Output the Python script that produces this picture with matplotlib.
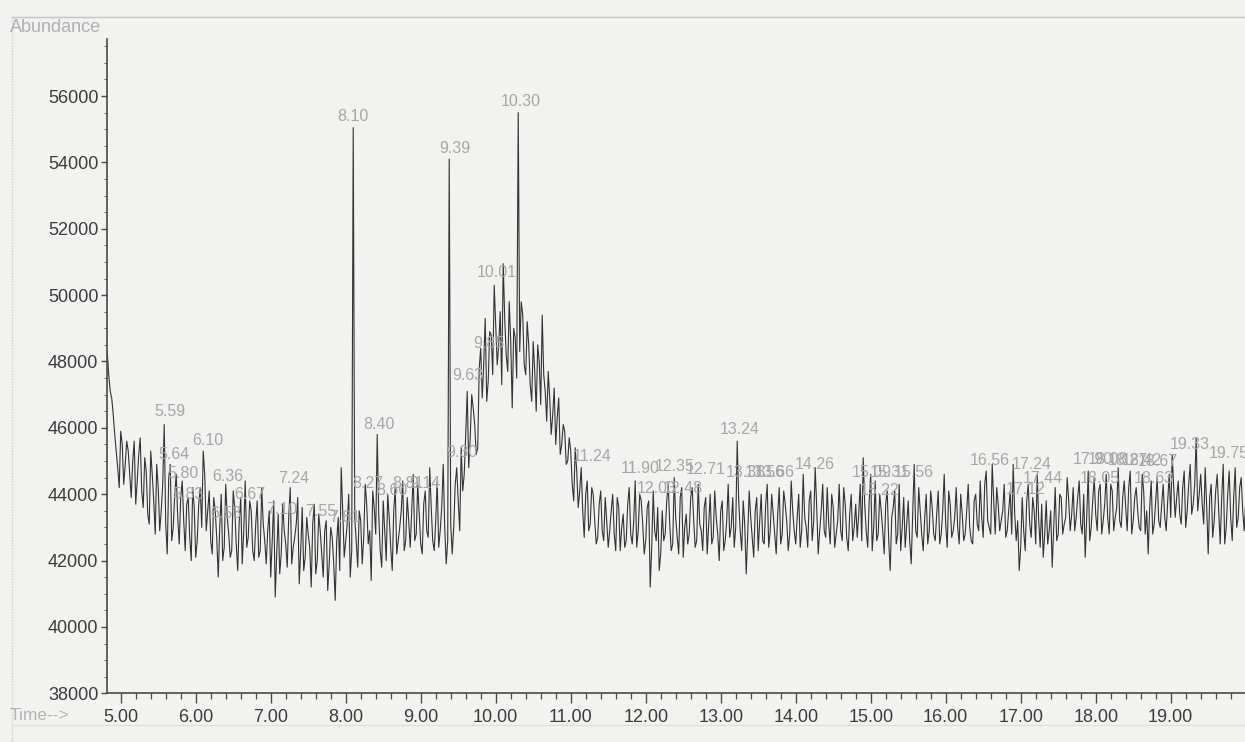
import numpy as np
import matplotlib
matplotlib.use("Agg")
import matplotlib.pyplot as plt
from matplotlib.ticker import MultipleLocator, FixedLocator, FuncFormatter
from matplotlib.lines import Line2D

# ---------------- data ----------------
scan_start = 4.82   # min, first scan
scan_step = 0.02    # min between scans

# even scans (4.82, 4.86, ...) per minute block
seg_05 = [48300, 47100, 46400, 45300, 44200, 45500, 44900, 45300, 43900, 45600,
          44400, 45700, 43600, 44700, 43100, 44600, 42800, 44200, 43500, 46100,
          42200, 44900, 43000, 44600, 42500]
seg_06 = [44400, 42300, 43900, 42000, 43600, 42600, 44200, 45300, 42900, 44100,
          42200, 43500, 41500, 44000, 42400, 43300, 42100, 44100, 42500, 43200,
          41900, 44400, 42700, 43500, 42000]
seg_07 = [43800, 42300, 43100, 41900, 43500, 42600, 40900, 43400, 42200, 42900,
          41800, 44200, 42400, 43100, 41300, 43600, 42100, 42800, 41200, 43700,
          42000, 42900, 41500, 43200, 41900]
seg_08 = [42700, 40800, 43300, 44800, 42100, 43100, 41500, 55050, 42600, 43500,
          41900, 44300, 42500, 41400, 43600, 45800, 42300, 43800, 42000, 43300,
          41700, 44200, 42600, 43500, 42300]
seg_09 = [43900, 42400, 44600, 42800, 43400, 42200, 44100, 42700, 43600, 42300,
          44400, 42900, 44900, 41900, 54100, 42200, 44300, 43800, 45400, 44600,
          47100, 45700, 46600, 45200, 47800]
seg_10 = [46900, 49300, 47400, 48800, 50300, 47900, 49500, 50950, 48200, 49800,
          46600, 48700, 55500, 49800, 47900, 49200, 47300, 48600, 46500, 48000,
          49400, 47100, 47700, 45800, 47200]
seg_11 = [46300, 45200, 46100, 44900, 45700, 44300, 45400, 43600, 44800, 42700,
          44400, 43100, 44000, 42500, 43700, 42900, 43900, 42400, 43500, 42800,
          43900, 42300, 43400, 42600, 44200]
seg_12 = [42500, 44400, 42900, 43800, 42200, 43600, 41200, 44100, 42600, 41700,
          43500, 42800, 44300, 42300, 44500, 42700, 43900, 42100, 43400, 42800,
          44200, 42400, 44300, 42900, 43600]
seg_13 = [42200, 44000, 42700, 43300, 42000, 43800, 42600, 44300, 43000, 42400,
          45600, 42900, 43800, 41600, 44100, 42700, 43500, 42300, 44000, 42500,
          44300, 42900, 43400, 42200, 44200]
seg_14 = [42800, 43700, 42300, 44400, 42900, 43300, 42400, 44600, 43000, 43800,
          42600, 44800, 42200, 43500, 42900, 44200, 42500, 43600, 42800, 44300,
          42600, 43700, 42300, 44000, 43000]
seg_15 = [42700, 44300, 45100, 42900, 43800, 42300, 44400, 42800, 43500, 42200,
          44100, 41700, 43600, 42500, 44300, 43000, 42400, 43800, 41900, 44900,
          42700, 43500, 42300, 44000, 42900]
seg_16 = [43600, 42600, 44100, 42800, 44600, 42400, 43700, 42900, 44200, 42500,
          43400, 42800, 44300, 42600, 43800, 43100, 44400, 42700, 44700, 43000,
          44900, 42800, 43700, 43200, 44300]
seg_17 = [42900, 44100, 44900, 42600, 41700, 43900, 42300, 44300, 42700, 43500,
          44600, 42400, 42100, 43800, 42900, 41800, 44200, 42800, 43900, 43100,
          44500, 42900, 44200, 43300, 44400]
seg_18 = [42800, 42100, 44700, 43000, 44500, 42900, 44300, 43200, 44600, 42800,
          44100, 43300, 44800, 43000, 44400, 42900, 44700, 43200, 44200, 43000,
          44600, 42800, 42200, 44400, 43100]
seg_19 = [44500, 43000, 44300, 42900, 44600, 45200, 43300, 44400, 43100, 44700,
          43500, 44900, 43700, 45700, 44000, 43700, 44800, 42200, 44300, 43200,
          44600, 42500, 44900, 43000, 44700]
seg_20 = [42600, 44800, 43300, 44500, 42900, 44200]

# odd scans (4.84, 4.88, ...) per minute block
mid_05 = [47600, 46900, 45800, 44800, 45900, 44300, 45600, 44600, 45000, 43700,
          45200, 44100, 45100, 43400, 45300, 43800, 44900, 42900, 44300, 43100,
          44500, 42600, 44000, 43300, 43900]
mid_06 = [43200, 43700, 42700, 44200, 42100, 43700, 43000, 44600, 43500, 42600,
          43900, 42700, 43000, 42000, 44300, 42800, 42300, 43600, 41700, 43900,
          42900, 42400, 43800, 42300, 43100]
mid_07 = [42100, 44200, 42600, 42900, 41500, 43800, 42200, 41600, 43700, 42500,
          43300, 41900, 42700, 43900, 42300, 41700, 43300, 42400, 43100, 41600,
          43400, 42200, 42900, 41100, 43000]
mid_08 = [41900, 42600, 41700, 43500, 42600, 44000, 42300, 43300, 41800, 43200,
          42700, 43700, 42900, 44100, 42800, 43400, 41800, 42900, 44000, 42400,
          43500, 42200, 43000, 44400, 42600]
mid_09 = [43200, 43500, 42600, 44300, 42500, 43700, 42900, 44800, 42600, 43200,
          42400, 43600, 43000, 42600, 43100, 43000, 44800, 42900, 44100, 45800,
          44800, 47000, 46100, 45400, 48400]
mid_10 = [47900, 46800, 48900, 47600, 49100, 48500, 47300, 49300, 47700, 48600,
          49000, 47500, 48300, 49400, 47600, 48500, 46800, 47700, 48500, 46700,
          47600, 46200, 46900, 46400, 45500]
mid_11 = [46900, 45500, 45900, 45000, 45300, 43800, 44700, 44100, 43500, 44000,
          42900, 44200, 43200, 42700, 44100, 42600, 43200, 42900, 44000, 42300,
          43600, 43000, 42400, 43700, 42800]
mid_12 = [43200, 42400, 44000, 43100, 42600, 43800, 42400, 42900, 43600, 42200,
          42600, 43800, 43100, 42500, 43300, 42200, 44200, 43000, 42500, 43900,
          43200, 42600, 43100, 42300, 43900]
mid_13 = [43100, 42500, 44100, 42800, 43500, 42300, 43200, 42700, 43900, 43000,
          43800, 42300, 43100, 42800, 43300, 42100, 43900, 43200, 42600, 43700,
          42400, 44000, 42800, 43400, 42500]
mid_14 = [44100, 43200, 42800, 43500, 42500, 44000, 42900, 43300, 42400, 44100,
          43200, 43600, 42900, 44300, 42700, 43100, 44000, 42400, 43200, 42900,
          44200, 42700, 43400, 42600, 43700]
mid_15 = [43400, 42600, 43700, 42400, 44600, 43000, 42600, 44000, 42900, 43700,
          42600, 43300, 44100, 42800, 42300, 43900, 43100, 42600, 43400, 42900,
          44200, 42800, 43300, 42500, 44100]
mid_16 = [42800, 43400, 42500, 43500, 43100, 44100, 42700, 43300, 43000, 44000,
          42600, 43500, 43000, 42500, 44000, 42900, 43300, 44300, 43200, 42800,
          43800, 44200, 42900, 43500, 42700]
mid_17 = [43500, 42800, 43400, 43200, 42400, 42900, 43800, 43100, 43900, 42500,
          43200, 43700, 42800, 42500, 43500, 43000, 42600, 44000, 42800, 43300,
          43800, 43400, 42900, 43900, 43100]
mid_18 = [44000, 43300, 42600, 43800, 43400, 44100, 42800, 43700, 43300, 44300,
          42900, 43600, 43200, 43900, 43600, 44200, 42800, 43900, 43500, 42900,
          44100, 43500, 43600, 42800, 43800]
mid_19 = [43200, 43700, 43300, 43800, 43300, 44200, 43900, 43400, 44200, 43000,
          44300, 43400, 44300, 43500, 44600, 43100, 43600, 43900, 42700, 44100,
          43500, 43900, 42500, 44000, 43300]
mid_20 = [43900, 43000, 44200, 43500, 43800, 43000]

even_scans = np.array(seg_05 + seg_06 + seg_07 + seg_08 + seg_09 + seg_10 +
                      seg_11 + seg_12 + seg_13 + seg_14 + seg_15 + seg_16 +
                      seg_17 + seg_18 + seg_19 + seg_20, dtype=float)
odd_scans = np.array(mid_05 + mid_06 + mid_07 + mid_08 + mid_09 + mid_10 +
                     mid_11 + mid_12 + mid_13 + mid_14 + mid_15 + mid_16 +
                     mid_17 + mid_18 + mid_19 + mid_20, dtype=float)
abundance = np.empty(even_scans.size + odd_scans.size)
abundance[0::2] = even_scans
abundance[1::2] = odd_scans
time = scan_start + scan_step * np.arange(abundance.size)

# peak labels printed by the instrument software (text, time, height)
peak_labels = ["5.59", "5.64", "5.80", "5.83", "6.10", "6.36", "6.53", "6.67",
               "7.10", "7.24", "7.55", "7.81", "8.10", "8.27", "8.40", "8.60",
               "8.81", "9.14", "9.30", "9.39", "9.63", "9.85", "10.01", "10.30",
               "11.24", "11.90", "12.03", "12.35", "12.48", "12.71", "13.24",
               "13.38", "13.56", "13.66", "14.26", "15.09", "15.22", "15.31",
               "15.56", "16.56", "17.12", "17.24", "17.44", "17.90", "18.05",
               "18.08", "18.27", "18.42", "18.63", "18.67", "19.33", "19.75"]
peak_label_time = [5.66, 5.71, 5.83, 5.90, 6.16, 6.43, 6.40, 6.72,
                   7.15, 7.30, 7.67, 7.99, 8.09, 8.30, 8.44, 8.62,
                   8.83, 9.06, 9.55, 9.46, 9.63, 9.91, 10.02, 10.34,
                   11.28, 11.93, 12.15, 12.39, 12.50, 12.80, 13.26,
                   13.33, 13.59, 13.72, 14.26, 15.02, 15.12, 15.26,
                   15.58, 16.59, 17.07, 17.15, 17.30, 17.96, 18.06,
                   18.16, 18.43, 18.62, 18.77, 18.83, 19.26, 19.77]
peak_label_height = [46490, 45200, 44630, 44000, 45620, 44540, 43420, 44000,
                     43540, 44480, 43480, 43300, 55380, 44330, 46100, 44110,
                     44330, 44330, 45260, 54420, 47580, 48540, 50680, 55830,
                     45140, 44780, 44180, 44840, 44180, 44750, 45950,
                     44660, 44660, 44660, 44900, 44660, 44110, 44660,
                     44660, 45020, 44140, 44900, 44480, 45050, 44480,
                     45050, 45020, 45020, 44480, 44990, 45500, 45230]

x_major = [5, 6, 7, 8, 9, 10, 11, 12, 13, 14, 15, 16, 17, 18, 19, 20]
y_major = [38000, 40000, 42000, 44000, 46000, 48000, 50000, 52000, 54000, 56000]

# ---------------- figure ----------------
bg = "#f2f2f0"
tick_col = "#3c3c3c"
plt.rcParams['font.family'] = ['Liberation Sans', 'DejaVu Sans']

W, H = 1245, 742
fig = plt.figure(figsize=(W / 100, H / 100), dpi=100, facecolor=bg)
left_px, right_px, bottom_px, top_px = 106.7, 1245.7, 693.3, 39.3
ax = fig.add_axes([left_px / W, 1 - bottom_px / H,
                   (right_px - left_px) / W, (bottom_px - top_px) / H])
ax.set_facecolor(bg)

ax.plot(time, abundance, color="#333333", lw=0.8, zorder=2)

for s, t, v in zip(peak_labels, peak_label_time, peak_label_height):
    ax.text(t, v, s, ha="center", va="center", color="#a6a6a6",
            fontsize=11.5, zorder=3)

ax.set_xlim(4.813, 20.0)
ax.set_ylim(38000, 57710)

ax.xaxis.set_major_locator(FixedLocator(x_major))
ax.xaxis.set_major_formatter(FuncFormatter(lambda v, p: "" if v > 19.5 else f"{v:.2f}"))
ax.xaxis.set_minor_locator(MultipleLocator(0.2))
ax.yaxis.set_major_locator(FixedLocator(y_major))
ax.yaxis.set_major_formatter(FuncFormatter(lambda v, p: f"{int(v)}"))
ax.yaxis.set_minor_locator(MultipleLocator(500))

for sp in ["top", "right"]:
    ax.spines[sp].set_visible(False)
for sp in ["left", "bottom"]:
    ax.spines[sp].set_color("#4a4a4a")
    ax.spines[sp].set_linewidth(1.2)

ax.tick_params(axis="x", which="major", direction="out", length=7, width=1,
               color="#4a4a4a", labelsize=13, labelcolor=tick_col, pad=4)
ax.tick_params(axis="x", which="minor", direction="out", length=4, width=0.9,
               color="#4a4a4a")
ax.tick_params(axis="y", which="major", direction="out", length=4, width=1,
               color="#4a4a4a", labelsize=13, labelcolor=tick_col, pad=2)
ax.tick_params(axis="y", which="minor", direction="out", length=2, width=0.7,
               color="#6a6a6a")

# printout frame / captions
fig.add_artist(Line2D([12 / W, 1.0], [1 - 17 / H] * 2, color="#c4c4c4", lw=1.0))
fig.add_artist(Line2D([12 / W, 12 / W], [1 - 17 / H, 0.0], color="#cfcfcf",
                      lw=1.0, ls=(0, (1, 1))))
fig.add_artist(Line2D([12 / W, 1.0], [1 - 725 / H] * 2, color="#e0e0e0", lw=1.0))
fig.text(10 / W, 1 - 28 / H, "Abundance", ha="left", va="center",
         color="#b0b0b0", fontsize=13)
fig.text(10 / W, 1 - 715 / H, "Time-->", ha="left", va="center",
         color="#b4b4b4", fontsize=12.5)

fig.savefig("out.png", dpi=100, facecolor=bg)
